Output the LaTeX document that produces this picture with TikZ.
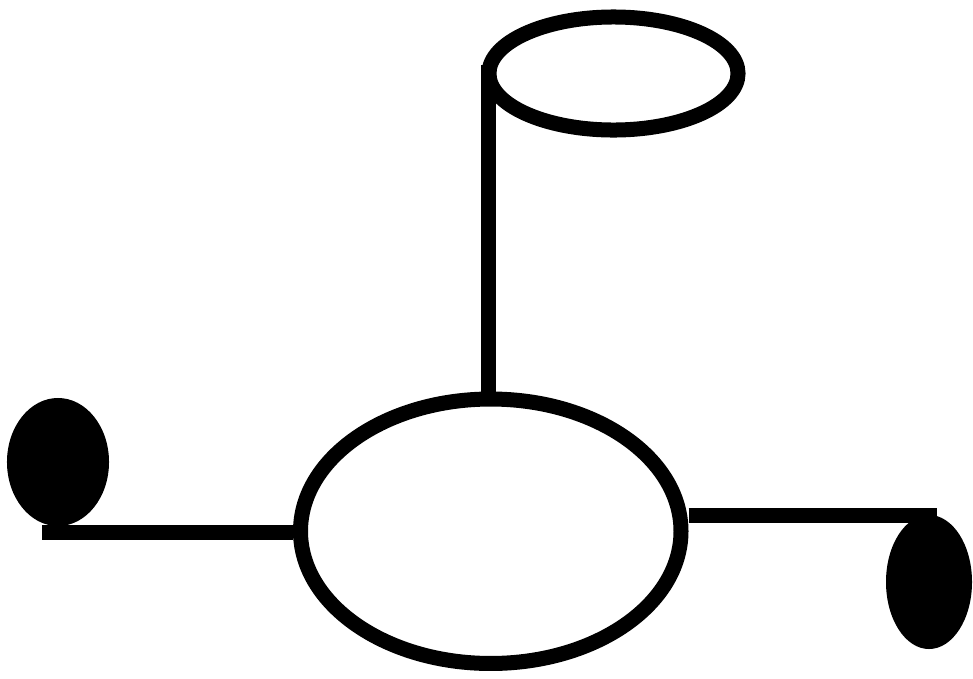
\documentclass[tikz,border=0pt]{standalone}
\usetikzlibrary{shapes.geometric}
\begin{document}
\begin{tikzpicture}[x=0.025cm, y=-0.025cm, line width=0.375cm]
    % Frame
    \useasboundingbox (0,0) rectangle (973,678);

    % Rings
    \node[draw, ellipse, inner sep=0pt, minimum width=9.51cm, minimum height=6.61cm] (body) at (490.75,531.25) {};
    \node[draw, ellipse, inner sep=0pt, outer sep=0pt, minimum width=6.225cm, minimum height=2.825cm] (head) at (613.5,73.5) {};

    % Filled ends
    \node[fill, ellipse, inner sep=0pt, minimum width=2.55cm, minimum height=3.2cm] (lball) at (58,462) {};
    \node[fill, ellipse, inner sep=0pt, minimum width=2.15cm, minimum height=3.35cm] (rball) at (929,582) {};

    % Arms
    \coordinate (lend) at (42,532);
    \coordinate (rend) at (937,515);
    \draw (lend) -- (lend -| body.west);
    \draw (body.east |- rend) -- (rend);
    \draw ([yshift=6] head.west) -- (head.west |- body.north);
\end{tikzpicture}
\end{document}
